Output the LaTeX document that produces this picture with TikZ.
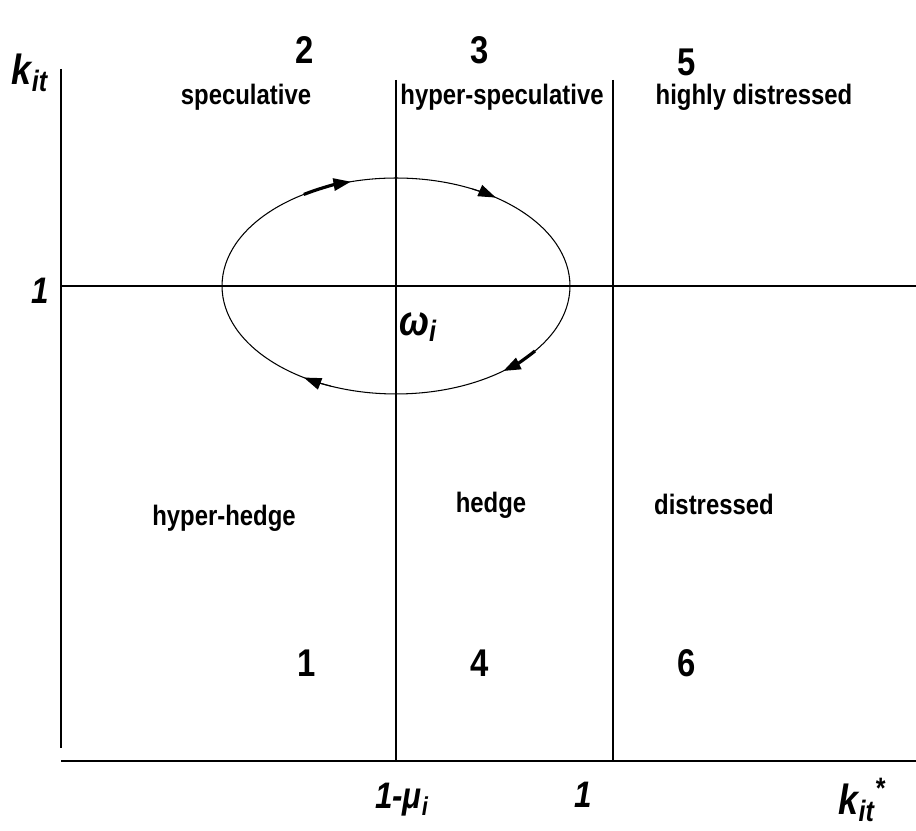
\documentclass[tikz,border=0pt]{standalone}
\usepackage{fontspec}
\setmainfont{Liberation Sans}[FakeStretch=0.85]
\usetikzlibrary{arrows.meta}

\begin{document}
\begin{tikzpicture}[x=0.02cm,y=0.02cm,
  axis/.style={line width=1.1pt},
  cyc/.style={line width=0.6pt},
  arr/.style={line width=1.8pt,-{Triangle[length=3.5mm,width=2.4mm]}},
  arrthin/.style={line width=0.6pt,-{Triangle[length=3.5mm,width=2.4mm]}},
  lbl/.style={font=\fontsize{16}{18}\selectfont\bfseries,inner sep=0pt},
  num/.style={font=\fontsize{22}{24}\selectfont\bfseries,inner sep=0pt},
  tck/.style={font=\fontsize{21}{23}\selectfont\bfseries\itshape,inner sep=0pt},
  var/.style={font=\fontsize{24}{26}\selectfont\bfseries\itshape,inner sep=0pt}]
  \useasboundingbox (0,0) rectangle (916,831);
  % axes and region borders
  \coordinate (ytop) at (61,762);
  \coordinate (ybot) at (61,83);
  \coordinate (xl) at (61,70);
  \coordinate (xr) at (916,70);
  \coordinate (hl) at (61,545);
  \coordinate (hr) at (916,545);
  \coordinate (mutop) at (396,751);
  \coordinate (mubot) at (396,70);
  \coordinate (onetop) at (613,751);
  \coordinate (onebot) at (613,70);
  \draw[axis] (ytop) -- (ybot);
  \draw[axis] (xl) -- (xr);
  \draw[axis] (hl) -- (hr);
  \draw[axis] (mutop) -- (mubot);
  \draw[axis] (onetop) -- (onebot);
  % cycle
  \coordinate (c) at (396,545);
  \draw[cyc] (c) ellipse [x radius=3.48cm,y radius=2.16cm];
  \draw[arr] (c) ++(122:3.48cm and 2.16cm)
    arc[start angle=122,end angle=105,x radius=3.48cm,y radius=2.16cm];
  \draw[arrthin] (c) ++(64:3.48cm and 2.16cm)
    arc[start angle=64,end angle=55,x radius=3.48cm,y radius=2.16cm];
  \draw[arr] (c) ++(-37:3.48cm and 2.16cm)
    arc[start angle=-37,end angle=-52,x radius=3.48cm,y radius=2.16cm];
  \draw[arrthin] (c) ++(-112:3.48cm and 2.16cm)
    arc[start angle=-112,end angle=-122,x radius=3.48cm,y radius=2.16cm];
  % labels
  \node[var] (kit) at (30,758) {k\textsubscript{it}};
  \node[tck] (one) at (40,540) {1};
  \node[num] (n2) at (305,781) {2};
  \node[num] (n3) at (480,781) {3};
  \node[num] (n5) at (687,769) {5};
  \node[lbl] (spec) at (246,734) {speculative};
  \node[lbl] (hspec) at (502,734) {hyper-speculative};
  \node[lbl] (hdist) at (754,734) {highly distressed};
  \node[var] (om) at (418,504) {ω\textsubscript{i}};
  \node[lbl] (hhedge) at (224,313) {hyper-hedge};
  \node[lbl] (hedge) at (491,326) {hedge};
  \node[lbl] (dist) at (714,327) {distressed};
  \node[num] (n1) at (307,168) {1};
  \node[num] (n4) at (480,168) {4};
  \node[num] (n6) at (687,168) {6};
  \node[tck] (mu) at (402,31) {1-μ\textsubscript{i}};
  \node[tck] (xone) at (583,36) {1};
  \node[var] (kstar) at (862,31) {k\textsubscript{it}\textsuperscript{*}};
\end{tikzpicture}
\end{document}
